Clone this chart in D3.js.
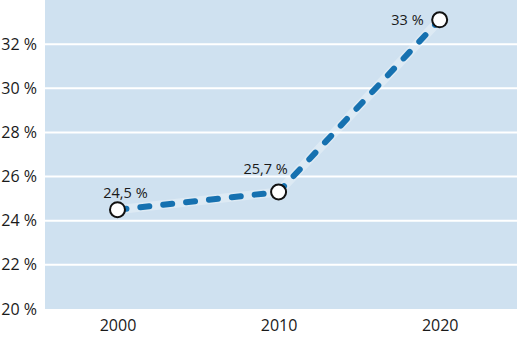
<!DOCTYPE html>
<html><head><meta charset="utf-8">
<script src="https://cdn.jsdelivr.net/npm/d3@7"></script>
<style>body{margin:0;background:#fff}svg{display:block}</style>
</head><body>
<svg id="c" width="521" height="341"></svg>
<script>
const years = [2000, 2010, 2020];
const values = [24.5, 25.3, 33.1];
const pointLabels = ["24,5 %", "25,7 %", "33 %"];
const yTicks = [20, 22, 24, 26, 28, 30, 32];
const yTickLabels = ["20 %", "22 %", "24 %", "26 %", "28 %", "30 %", "32 %"];

const svg = d3.select("#c");
const W = 521, H = 341;
const m = {l: 45, r: 4, t: 0, b: 32};
const font = "'Open Sans', sans-serif";

const x = d3.scaleLinear().domain([1995.5, 2024.8]).range([m.l, W - m.r]);
const y = d3.scaleLinear().domain([20, 34]).range([H - m.b, m.t]);

svg.append("rect").attr("x", m.l).attr("y", m.t)
  .attr("width", W - m.r - m.l).attr("height", H - m.b - m.t)
  .attr("fill", "#cfe1f0");

svg.append("g").selectAll("line").data(yTicks.slice(1)).join("line")
  .attr("x1", m.l).attr("x2", W - m.r)
  .attr("y1", d => y(d)).attr("y2", d => y(d))
  .attr("stroke", "#fff").attr("stroke-width", 2);

const yAxis = d3.axisLeft(y).tickValues(yTicks).tickSize(0).tickPadding(8)
  .tickFormat((d, i) => yTickLabels[i]);
const gy = svg.append("g").attr("transform", `translate(${m.l},0)`).call(yAxis);
gy.select(".domain").remove();
gy.selectAll("text").attr("font-family", font).attr("font-size", 16).attr("fill", "#1a1a1a");

const xAxis = d3.axisBottom(x).tickValues(years).tickSize(0).tickPadding(11)
  .tickFormat(d3.format("d"));
const gx = svg.append("g").attr("transform", `translate(0,${H - m.b})`).call(xAxis);
gx.select(".domain").remove();
gx.selectAll("text").attr("font-family", font).attr("font-size", 16).attr("fill", "#1a1a1a");

const data = years.map((yr, i) => ({yr, v: values[i], lab: pointLabels[i]}));
const line = d3.line().x(d => x(d.yr)).y(d => y(d.v));

svg.append("path").datum(data).attr("d", line)
  .attr("fill", "none").attr("stroke", "rgba(255,255,255,0.3)").attr("stroke-width", 9);
svg.append("path").datum(data).attr("d", line)
  .attr("fill", "none").attr("stroke", "#1671b0").attr("stroke-width", 6)
  .attr("stroke-dasharray", "9,14").attr("stroke-linecap", "round");

svg.append("g").selectAll("circle").data(data).join("circle")
  .attr("cx", d => x(d.yr)).attr("cy", d => y(d.v)).attr("r", 7.5)
  .attr("fill", "#fff").attr("stroke", "#111").attr("stroke-width", 2);

const labPos = [
  {dx: 8, dy: -12, anchor: "middle"},
  {dx: -13, dy: -18, anchor: "middle"},
  {dx: -16, dy: 5, anchor: "end"}
];
svg.append("g").selectAll("text").data(data).join("text")
  .attr("x", (d, i) => x(d.yr) + labPos[i].dx)
  .attr("y", (d, i) => y(d.v) + labPos[i].dy)
  .attr("text-anchor", (d, i) => labPos[i].anchor)
  .attr("font-family", font).attr("font-size", 14.5).attr("fill", "#1a1a1a")
  .text(d => d.lab);
</script>
</body></html>
